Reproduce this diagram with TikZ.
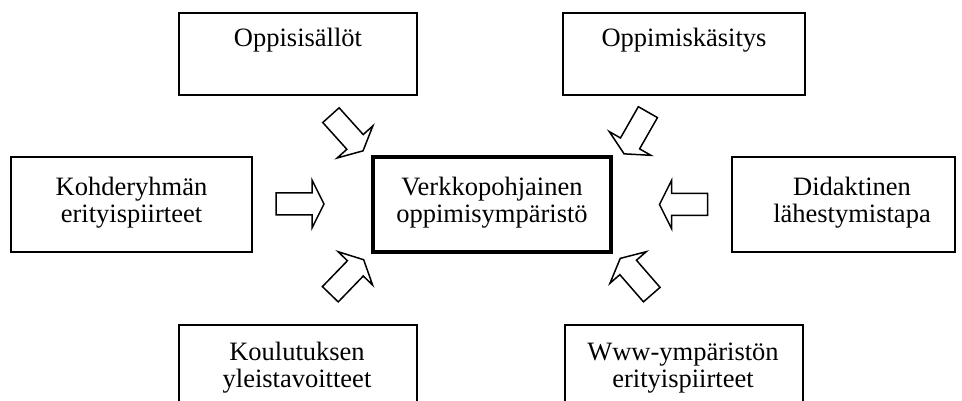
\documentclass[tikz,border=0pt]{standalone}
\usepackage{fontspec}
\setmainfont{Liberation Serif}
\begin{document}
\begin{tikzpicture}[x=1pt,y=-1pt,
  box/.style={draw, rectangle, line width=1.4pt, inner sep=0pt},
  mainbox/.style={box, line width=4pt},
  lbl/.style={font=\fontsize{26.5}{27.5}\selectfont, align=center, anchor=base, inner sep=0pt},
  arrowline/.style={draw, fill=white, line width=1.5pt, line join=miter},
  blockarrow/.pic={\path[arrowline] (-24,-11) -- (12,-11) -- (12,-24) -- (24,0)
      -- (12,24) -- (12,11) -- (-24,11) -- cycle;}]
\useasboundingbox (0,0) rectangle (962,401);
\clip (0,0) rectangle (962,401);

% surrounding factor boxes
\node[box, minimum width=238pt, minimum height=82pt] (oppi) at (298,54) {};
\node[box, minimum width=242pt, minimum height=82pt] (kasitys) at (684,54) {};
\node[box, minimum width=241pt, minimum height=95pt] (kohde) at (131.5,204.5) {};
\node[box, minimum width=223pt, minimum height=95pt] (didak) at (843.5,204.5) {};
\node[box, minimum width=238pt, minimum height=120pt] (koulu) at (298,385) {};
\node[box, minimum width=238pt, minimum height=120pt] (www) at (684,385) {};

% central box
\node[mainbox, minimum width=238pt, minimum height=95pt] (verkko) at (492,204.5) {};

% box texts (base anchor = baseline of the last line)
\node[lbl] (toppi) at (298,47) {Oppisisällöt};
\node[lbl] (tkasitys) at (684,47) {Oppimiskäsitys};
\node[lbl] (tkohde) at (131.5,222.5) {Kohderyhmän\\erityispiirteet};
\node[lbl] (tverkko) at (492,222.5) {Verkkopohjainen\\oppimisympäristö};
\node[lbl] (tdidak) at (852,222.5) {Didaktinen\\lähestymistapa};
\node[lbl] (tkoulu) at (297,387.5) {Koulutuksen\\yleistavoitteet};
\node[lbl] (twww) at (683,387.5) {Www-ympäristön\\erityispiirteet};

% block arrows pointing at the central box
\pic[rotate=0] at (300,204) {blockarrow};
\pic[rotate=180] at (683.5,204.5) {blockarrow};
\pic[rotate=-48] at (347,133) {blockarrow};
\pic[rotate=-119.7] at (636,133) {blockarrow};
\pic[rotate=46] at (347,277) {blockarrow};
\pic[rotate=131] at (636,276.5) {blockarrow};
\end{tikzpicture}
\end{document}
